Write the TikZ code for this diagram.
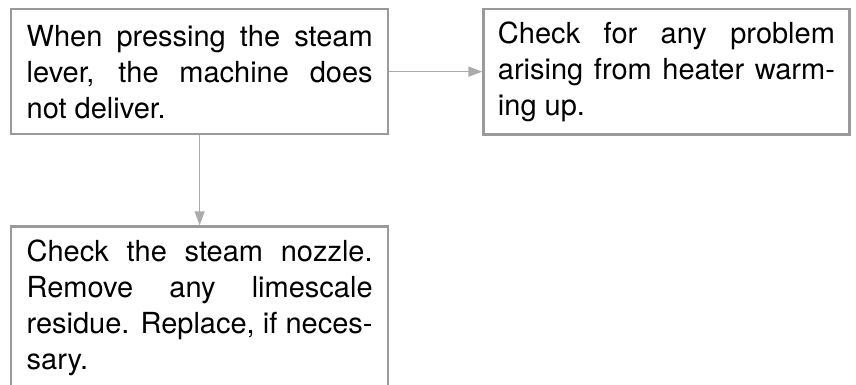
\documentclass[tikz,border=0pt]{standalone}
\usepackage{fontspec}
\setmainfont{TeX Gyre Heros}
\usepackage{tikz}
\usetikzlibrary{positioning,arrows.meta}
\definecolor{framegray}{HTML}{9A9A9A}
\definecolor{linkgray}{HTML}{ABABAB}

\begin{document}
\begin{tikzpicture}[x=1pt, y=-1pt,
    box/.style={draw=framegray, line width=2.3pt, align=justify, text width=346pt, inner xsep=15.5pt, inner ysep=13pt, minimum height=125pt, font=\fontsize{29}{36}\selectfont},
    link/.style={draw=linkgray, line width=1.5pt, -{Triangle[length=14pt,width=10pt]}},
    node distance=90pt and 93pt
  ]
    \clip (0,0) rectangle (856,385);

    \node[box, anchor=north west] (box1) at (10,8) {When pressing the steam\linebreak lever, the machine does\linebreak not deliver.};
    \node[box, text width=337pt, inner xsep=14.5pt, right=of box1] (box2) {Check for any problem\linebreak arising from heater warm-\linebreak ing up.};
    \node[box, below=of box1] (box3) {Check the steam nozzle.\linebreak Remove any limescale\linebreak residue. Replace, if neces-\linebreak sary.};

    \draw[link] (box1) -- (box2);
    \draw[link] (box1) -- (box3);

  \end{tikzpicture}
\end{document}
